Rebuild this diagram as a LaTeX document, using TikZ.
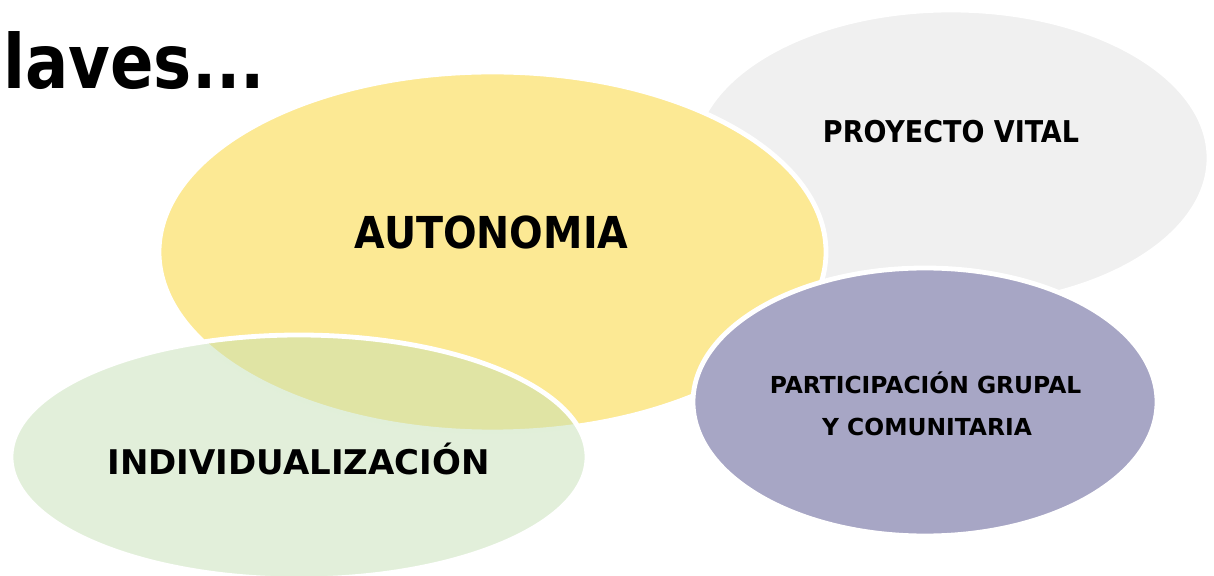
\documentclass[tikz,border=0pt]{standalone}
\usepackage{fontspec}
\setmainfont{DejaVu Sans Condensed}
\newfontfamily\ancha{DejaVu Sans}
\usetikzlibrary{positioning,shapes.geometric}
\definecolor{amarillo}{RGB}{252,233,148}
\definecolor{gris}{RGB}{240,240,240}
\definecolor{lila}{RGB}{167,166,197}
\definecolor{verde}{RGB}{197,224,181}
\begin{document}
\begin{tikzpicture} [x=0.5pt, y=-0.5pt, blob/.style={ellipse, draw=white, line width=2.4pt, inner sep=0pt}, tag/.style={font=\bfseries, anchor=base, inner sep=0pt}]

\useasboundingbox (0,0) rectangle (1214,576);

\node [blob, fill=gris, minimum width=258pt, minimum height=148pt]		(vital) at (951,158) {};
\node [blob, fill=amarillo, minimum width=333.5pt, minimum height=180pt]	(auto) at (492.5,252) {};
\node [blob, fill=lila, minimum width=232pt, minimum height=134pt]		(part) at (925,402) {};
\node [blob, fill=verde, fill opacity=0.5, minimum width=288pt, minimum height=122pt]	(indiv) at (299,457) {};

\node [tag, anchor=base west, font=\bfseries\fontsize{37.5}{40}\selectfont]	(titulo) at (3,89) {\scalebox{0.95}[1]{laves...}};
\node [tag, font=\bfseries\fontsize{22}{26}\selectfont]	(tauto) at (491.5,249) {AUTONOMIA};
\node [tag, font=\bfseries\fontsize{15}{18}\selectfont]	(tvital) at (951,143) {PROYECTO VITAL};
\node [tag, font=\ancha\bfseries\fontsize{17}{20}\selectfont]	(tindiv) at (298.5,474) {INDIVIDUALIZACIÓN};
\node [tag, font=\ancha\bfseries\fontsize{11.7}{14}\selectfont]	(tpart) at (925.5,394) {PARTICIPACIÓN GRUPAL};
\node [tag, font=\ancha\bfseries\fontsize{11.7}{14}\selectfont]	(tcomu) at (927,436) {Y COMUNITARIA};

\end{tikzpicture}
\end{document}
